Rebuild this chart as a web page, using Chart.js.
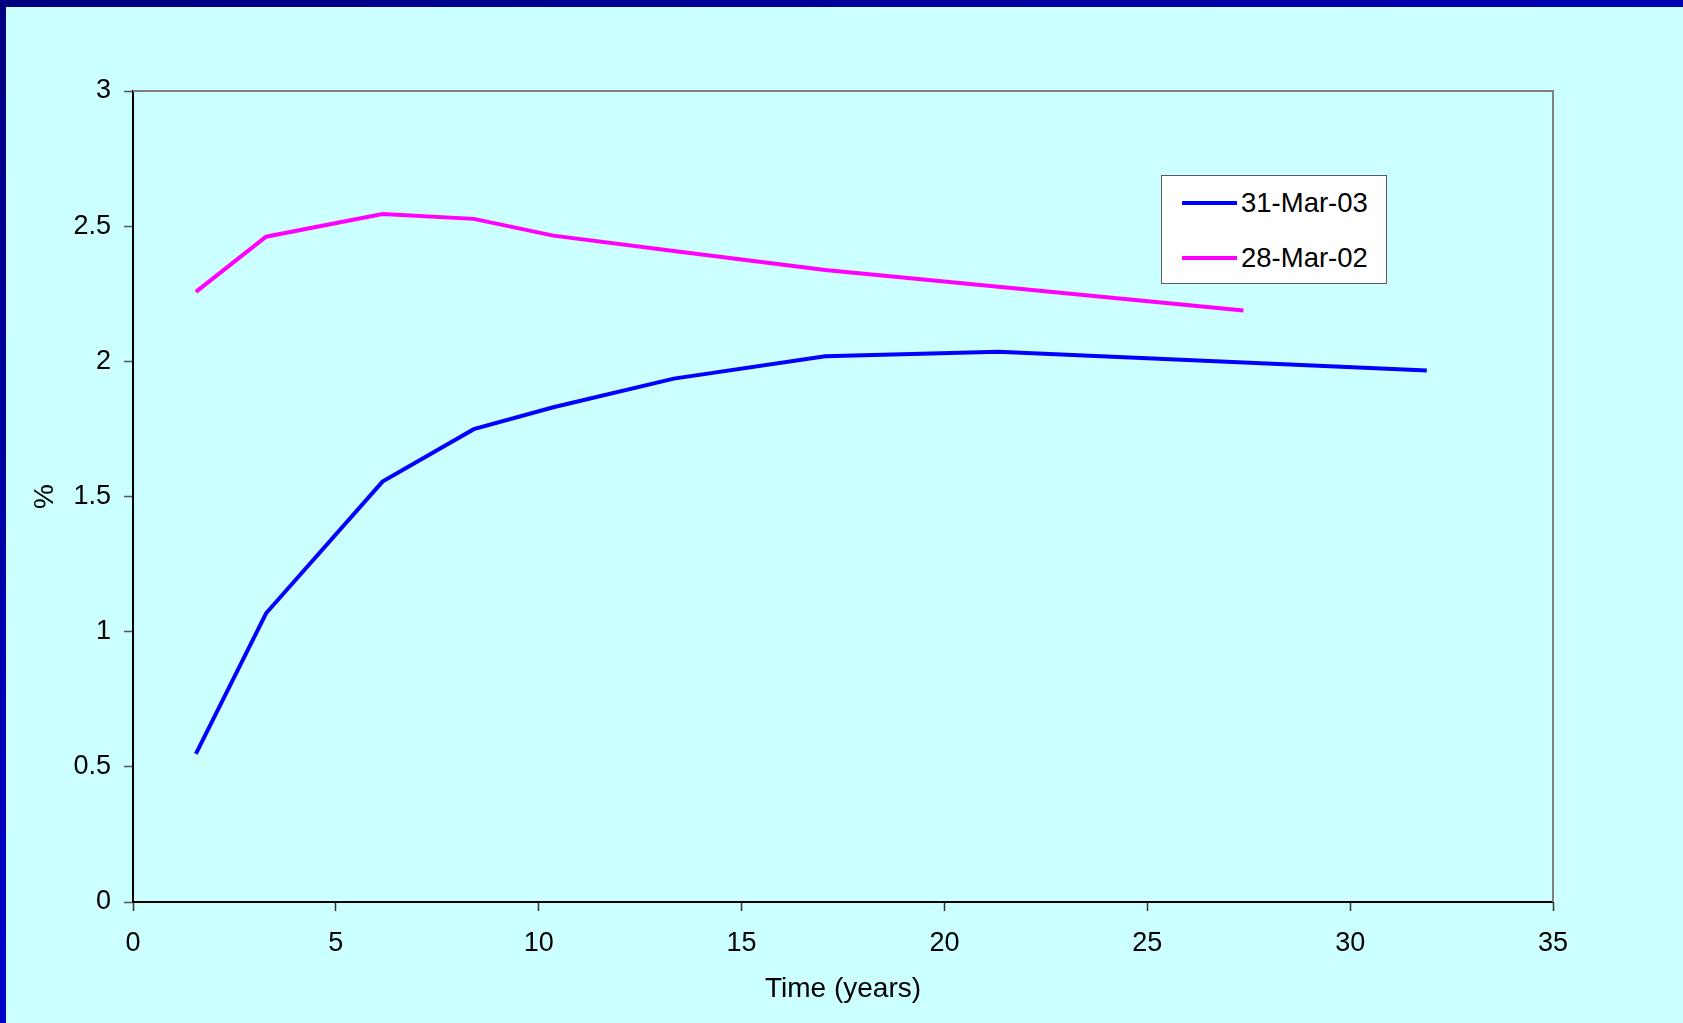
<!DOCTYPE html>
<html>
<head>
<meta charset="utf-8">
<script src="https://cdn.jsdelivr.net/npm/chart.js@4/dist/chart.umd.min.js"></script>
<style>
  html, body { margin: 0; padding: 0; background: #CCFFFF; overflow: hidden; }
  #wrap { position: relative; width: 1683px; height: 1023px; background: #CCFFFF; }
  #topband { position: absolute; left: 0; top: 0; width: 1683px; height: 7px;
    background: linear-gradient(to right, #000080, #0000B4); }
  #leftband { position: absolute; left: 0; top: 0; width: 6px; height: 1023px;
    background: linear-gradient(to bottom, #000080, #0000CC); }
  #legend { position: absolute; left: 1161px; top: 175px; width: 224px; height: 107px;
    background: #FFFFFF; border: 1.5px solid #5a5a5a; font-family: "Liberation Sans", Arial, sans-serif;
    font-size: 27.5px; color: #000; }
  .item { position: absolute; left: 0; height: 30px; }
  .swatch { position: absolute; left: 20px; width: 55px; height: 4px; }
  .lbl { position: absolute; left: 79px; top: 0; white-space: nowrap; line-height: 30px; }
</style>
</head>
<body>
<div id="wrap">
  <canvas id="c" width="1683" height="1023"></canvas>
  <div id="topband"></div>
  <div id="leftband"></div>
  <div id="legend"></div>
</div>
<script>
// Data
const seriesNames = ["31-Mar-03", "28-Mar-02"];
const xMar03 = [1.55, 3.28, 6.15, 8.40, 10.36, 13.33, 17.06, 21.33, 31.89];
const yMar03 = [0.548, 1.068, 1.555, 1.749, 1.830, 1.936, 2.019, 2.035, 1.966];
const xMar02 = [1.55, 3.28, 6.15, 8.40, 10.36, 13.33, 17.06, 21.33, 27.37];
const yMar02 = [2.257, 2.461, 2.545, 2.527, 2.465, 2.408, 2.338, 2.276, 2.188];
const xAxisTitle = "Time (years)";
const yAxisTitle = "%";

const toPoints = (xs, ys) => xs.map((x, i) => ({ x: x, y: ys[i] }));
const fmt = v => String(Math.round(v * 10) / 10);

const FONT = "'Liberation Sans', Arial, sans-serif";

const frame = {
  id: 'frame',
  beforeDatasetsDraw(chart) {
    const { ctx, chartArea: a } = chart;
    ctx.save();
    ctx.strokeStyle = '#808080';
    ctx.lineWidth = 2;
    ctx.beginPath();
    ctx.moveTo(a.left, a.top);
    ctx.lineTo(a.right, a.top);
    ctx.lineTo(a.right, a.bottom);
    ctx.stroke();
    ctx.restore();
  }
};

const chart = new Chart(document.getElementById('c'), {
  type: 'scatter',
  data: {
    datasets: [
      { label: seriesNames[0], data: toPoints(xMar03, yMar03), borderColor: '#0000FF',
        backgroundColor: '#0000FF', borderWidth: 4, showLine: true, pointRadius: 0, tension: 0 },
      { label: seriesNames[1], data: toPoints(xMar02, yMar02), borderColor: '#FF00FF',
        backgroundColor: '#FF00FF', borderWidth: 4, showLine: true, pointRadius: 0, tension: 0 }
    ]
  },
  options: {
    responsive: false,
    animation: false,
    events: [],
    layout: { padding: { left: 0, top: 91, right: 130, bottom: 0 } },
    plugins: { legend: { display: false }, title: { display: false }, tooltip: { enabled: false } },
    scales: {
      x: {
        type: 'linear', min: 0, max: 35,
        ticks: { stepSize: 5, color: '#000', padding: 16, font: { family: FONT, size: 27 }, callback: fmt },
        grid: { display: true, drawOnChartArea: false, drawTicks: true, tickLength: 9, tickColor: '#333', tickWidth: 1.5 },
        border: { display: true, color: '#000', width: 2 },
        title: { display: true, text: xAxisTitle, color: '#000', font: { family: FONT, size: 28 },
          padding: { top: 0, bottom: 17 } },
        afterFit(scale) { scale.height = 121; }
      },
      y: {
        type: 'linear', min: 0, max: 3,
        ticks: { stepSize: 0.5, color: '#000', padding: 13, font: { family: FONT, size: 27 }, callback: fmt },
        grid: { display: true, drawOnChartArea: false, drawTicks: true, tickLength: 9, tickColor: '#555', tickWidth: 1.5 },
        border: { display: true, color: '#000', width: 2 },
        title: { display: true, text: yAxisTitle, color: '#000', font: { family: FONT, size: 28 },
          padding: { top: 28, bottom: 0 } },
        afterFit(scale) { scale.width = 133; }
      }
    }
  },
  plugins: [frame]
});

// HTML legend built from the chart's datasets
const legend = document.getElementById('legend');
chart.data.datasets.forEach((ds, i) => {
  const item = document.createElement('div');
  item.className = 'item';
  item.style.top = (12 + i * 55) + 'px';
  const sw = document.createElement('div');
  sw.className = 'swatch';
  sw.style.background = ds.borderColor;
  sw.style.top = '13px';
  const lb = document.createElement('div');
  lb.className = 'lbl';
  lb.textContent = ds.label;
  item.appendChild(sw);
  item.appendChild(lb);
  legend.appendChild(item);
});
</script>
</body>
</html>
